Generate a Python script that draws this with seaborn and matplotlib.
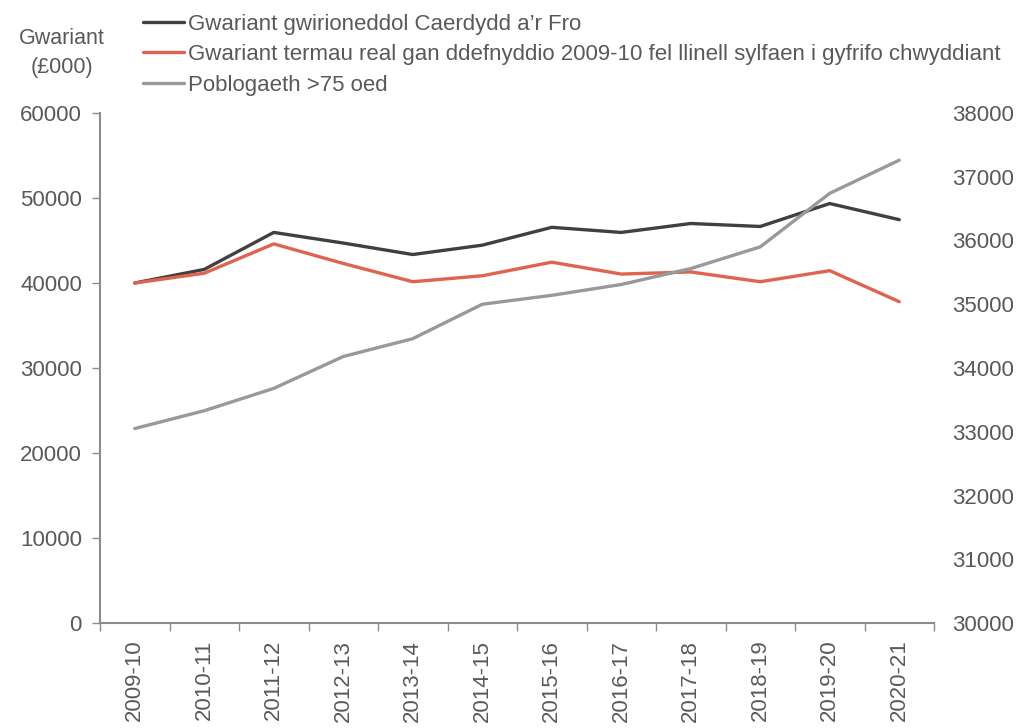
import numpy as np
import pandas as pd
import seaborn as sns
import matplotlib.pyplot as plt
from matplotlib.ticker import FixedLocator

years = ["2009-10", "2010-11", "2011-12", "2012-13", "2013-14", "2014-15",
         "2015-16", "2016-17", "2017-18", "2018-19", "2019-20", "2020-21"]
actual_spend = [40000, 41600, 45950, 44700, 43350, 44450,
                46550, 45950, 47000, 46650, 49350, 47450]
real_spend = [40000, 41150, 44600, 42300, 40150, 40850,
              42450, 41050, 41300, 40150, 41450, 37800]
population_75 = [33050, 33330, 33680, 34180, 34460, 35000,
                 35140, 35310, 35560, 35900, 36740, 37260]

labels = ["Gwariant gwirioneddol Caerdydd a’r Fro",
          "Gwariant termau real gan ddefnyddio 2009-10 fel llinell sylfaen i gyfrifo chwyddiant",
          "Poblogaeth >75 oed"]
colours = ["#404040", "#DE644F", "#999999"]
text_grey = "#595959"

df = pd.DataFrame({"year": years, "actual": actual_spend,
                   "real": real_spend, "pop": population_75})

sns.set_theme(style="white")
plt.rcParams["font.family"] = ["Liberation Sans", "DejaVu Sans"]

fig = plt.figure(figsize=(10.18, 7.28), dpi=100)
ax = fig.add_axes([100 / 1018, 1 - 623 / 728, 834 / 1018, 510 / 728])
ax2 = ax.twinx()

sns.lineplot(data=df, x="year", y="actual", ax=ax, color=colours[0],
             linewidth=2.4, label=labels[0], sort=False)
sns.lineplot(data=df, x="year", y="real", ax=ax, color=colours[1],
             linewidth=2.4, label=labels[1], sort=False)
sns.lineplot(data=df, x="year", y="pop", ax=ax2, color=colours[2],
             linewidth=2.4, label=labels[2], sort=False)

ax.set_xlim(-0.5, len(years) - 0.5)
ax.set_ylim(0, 60000)
ax2.set_ylim(30000, 38000)
ax.set_yticks(np.arange(0, 60001, 10000))
ax2.set_yticks(np.arange(30000, 38001, 1000))
ax.set_xlabel("")
ax.set_ylabel("")
ax2.set_ylabel("")

ax.set_xticks(range(len(years)))
ax.set_xticklabels(years, rotation=90)
ax.xaxis.set_minor_locator(FixedLocator(np.arange(-0.5, len(years), 1)))
ax.tick_params(axis="x", which="major", length=0, pad=12,
               labelsize=16, labelcolor=text_grey)
ax.tick_params(axis="x", which="minor", bottom=True, length=6,
               color="#8c8c8c", width=1)
ax.tick_params(axis="y", left=True, length=6, color="#8c8c8c", width=1,
               pad=7, labelsize=16, labelcolor=text_grey)
ax2.tick_params(axis="y", right=False, length=0, pad=13,
                labelsize=16, labelcolor=text_grey)

for side in ["top", "right"]:
    ax.spines[side].set_visible(False)
for side in ["left", "bottom"]:
    ax.spines[side].set_color("#8c8c8c")
    ax.spines[side].set_linewidth(1.5)
for side in ax2.spines:
    ax2.spines[side].set_visible(False)

h1, _ = ax.get_legend_handles_labels()
h2, _ = ax2.get_legend_handles_labels()
ax.get_legend().remove()
ax2.get_legend().remove()
fig.legend(h1 + h2, labels, loc="upper left",
           bbox_to_anchor=(134 / 1018, 1 - 5 / 728), frameon=False,
           fontsize=16, labelcolor=text_grey, handlelength=1.85,
           handletextpad=0.16, labelspacing=0.42, borderaxespad=0)

fig.text(62 / 1018, 1 - 53 / 728, "Gwariant\n(£000)", ha="center",
         va="center", fontsize=15.5, color=text_grey, linespacing=1.5)

fig.savefig("out.png", dpi=100)
